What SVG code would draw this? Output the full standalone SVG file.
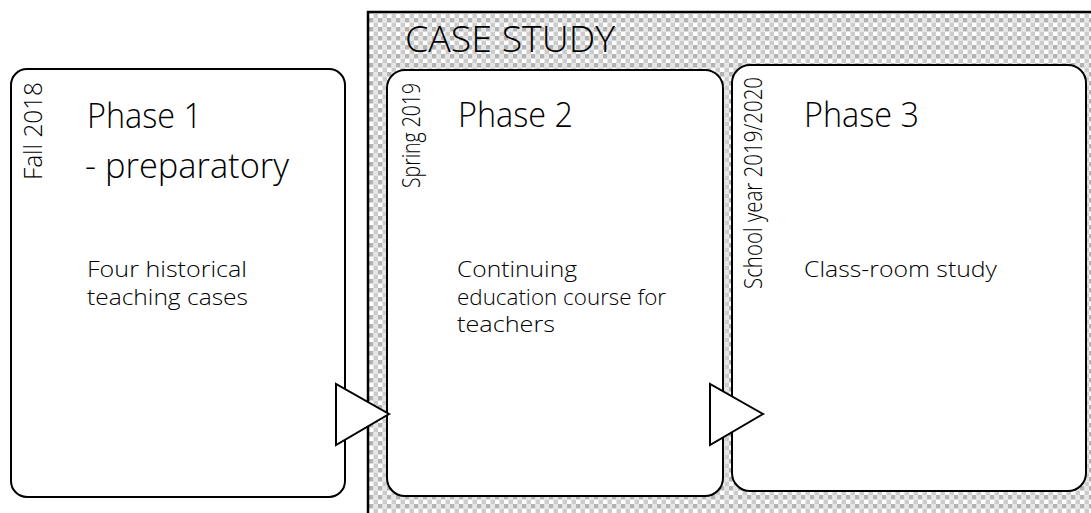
<svg xmlns="http://www.w3.org/2000/svg" width="1091" height="513" viewBox="0 0 1091 513">
<defs>
<pattern id="chk" x="0" y="0" width="9" height="9" patternUnits="userSpaceOnUse">
<rect width="9" height="9" fill="#ffffff"/>
<rect x="0" y="0" width="4.5" height="4.5" fill="#b3b3b3"/>
<rect x="4.5" y="4.5" width="4.5" height="4.5" fill="#cccccc"/>
<rect x="4.5" y="0" width="4.5" height="4.5" fill="#e6e6e6"/>
</pattern>
<style>
.box{fill:#ffffff;stroke:#000000;stroke-width:2}
.tri{fill:#ffffff;stroke:#000000;stroke-width:2;stroke-linejoin:miter}
text{font-family:"Open Sans","Liberation Sans",sans-serif;font-weight:300;fill:#000000}
.big{font-size:34px}
.body{font-size:22px}
.side{font-size:25px}
.title{font-size:37px}
</style>
</defs>
<rect width="1091" height="513" fill="#ffffff"/>
<g id="case-study">
<rect x="368" y="12" width="740" height="520" fill="url(#chk)" stroke="#000000" stroke-width="2.5"/>
<text class="title" x="405" y="52" textLength="210" lengthAdjust="spacingAndGlyphs">CASE STUDY</text>
</g>
<g id="phase1">
<rect class="box" x="11" y="69" width="334" height="428" rx="16" ry="16"/>
<text class="side" transform="translate(42,82) rotate(-90)" text-anchor="end" textLength="98" lengthAdjust="spacingAndGlyphs">Fall 2018</text>
<text class="big" x="87" y="128" textLength="115" lengthAdjust="spacingAndGlyphs">Phase 1</text>
<text class="big" x="85" y="178" textLength="204" lengthAdjust="spacingAndGlyphs">- preparatory</text>
<text class="body" x="87" y="277" textLength="160" lengthAdjust="spacingAndGlyphs">Four historical</text>
<text class="body" x="87" y="305" textLength="161" lengthAdjust="spacingAndGlyphs">teaching cases</text>
</g>
<g id="phase2">
<rect class="box" x="387" y="70" width="336" height="426" rx="18" ry="18"/>
<text class="side" transform="translate(420,83) rotate(-90)" text-anchor="end" textLength="105" lengthAdjust="spacingAndGlyphs">Spring 2019</text>
<text class="big" x="458" y="127" textLength="115" lengthAdjust="spacingAndGlyphs">Phase 2</text>
<text class="body" x="457" y="277" textLength="120" lengthAdjust="spacingAndGlyphs">Continuing</text>
<text class="body" x="457" y="305" textLength="209" lengthAdjust="spacingAndGlyphs">education course for</text>
<text class="body" x="457" y="332" textLength="98" lengthAdjust="spacingAndGlyphs">teachers</text>
</g>
<g id="phase3">
<rect class="box" x="732" y="65" width="354" height="426" rx="18" ry="18"/>
<text class="side" transform="translate(762,77) rotate(-90)" text-anchor="end" textLength="212" lengthAdjust="spacingAndGlyphs">School year 2019/2020</text>
<text class="big" x="804" y="127" textLength="115" lengthAdjust="spacingAndGlyphs">Phase 3</text>
<text class="body" x="804" y="277" textLength="193" lengthAdjust="spacingAndGlyphs">Class-room study</text>
</g>
<g id="connectors">
<polygon class="tri" points="336,384 336,445 389,414"/>
<polygon class="tri" points="710,384 710,445 763,414"/>
</g>
</svg>
